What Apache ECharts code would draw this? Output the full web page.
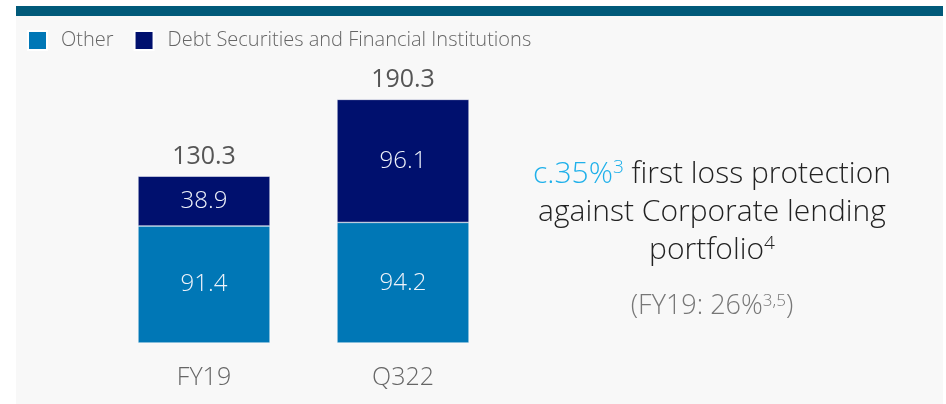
<!DOCTYPE html>
<html>
<head>
<meta charset="utf-8">
<script src="https://cdn.jsdelivr.net/npm/echarts@6/dist/echarts.min.js"></script>
<style>
  html, body { margin: 0; padding: 0; background: #ffffff; }
  #chart { width: 946px; height: 404px; }
</style>
</head>
<body>
<div id="chart"></div>
<script>
// Data
var categories = ['FY19', 'Q322'];
var otherValues = [91.4, 94.2];
var debtValues = [38.9, 96.1];
var totalValues = [130.3, 190.3];

var chart = echarts.init(document.getElementById('chart'));

var fontName = '"Open Sans", Lato, sans-serif';

// One centred line of the side note
var noteLine = function (y, text, rich) {
    return {
        type: 'text', x: 712, y: y, z: 10,
        style: { text: text, align: 'center', verticalAlign: 'middle', rich: rich }
    };
};

var noteRich = {
    hl: { fontSize: 30, fontFamily: fontName, fontWeight: 300, fill: '#1fb0ea' },
    hls: { fontSize: 19, fontFamily: fontName, fontWeight: 300, fill: '#1fb0ea', padding: [0, 0, 12, 0] },
    t: { fontSize: 30, fontFamily: fontName, fontWeight: 300, fill: '#222222' },
    ts: { fontSize: 19, fontFamily: fontName, fontWeight: 300, fill: '#222222', padding: [0, 0, 12, 0] },
    g: { fontSize: 27, fontFamily: fontName, fontWeight: 300, fill: '#777777' },
    gs: { fontSize: 17, fontFamily: fontName, fontWeight: 300, fill: '#777777', padding: [0, 0, 10, 0] }
};

var option = {
    backgroundColor: '#ffffff',
    textStyle: { fontFamily: fontName, fontWeight: 300 },
    animation: false,
    // Background panel, top band and the side note
    graphic: [
        { type: 'rect', z: -10, shape: { x: 16, y: 16, width: 927, height: 388 }, style: { fill: '#f8f8f8' } },
        { type: 'rect', z: -10, shape: { x: 16, y: 6, width: 927, height: 10 }, style: { fill: '#015a7a' } },
        noteLine(174, '{hl|c.35%}{hls|3}{t| first loss protection}', noteRich),
        noteLine(212, '{t|against Corporate lending}', noteRich),
        noteLine(250, '{t|portfolio}{ts|4}', noteRich),
        noteLine(306, '{g|(FY19: 26%}{gs|3,5}{g|)}', noteRich)
    ],
    legend: {
        left: 22,
        top: 25,
        itemWidth: 19,
        itemHeight: 19,
        itemGap: 20,
        icon: 'rect',
        textStyle: { fontSize: 20, color: '#666666', padding: [0, 0, 0, 9], fontFamily: fontName, fontWeight: 300 },
        data: ['Other', 'Debt Securities and Financial Institutions']
    },
    grid: { left: 104.5, width: 398, top: 87, bottom: 61 },
    xAxis: {
        type: 'category',
        data: categories,
        axisLine: { show: false },
        axisTick: { show: false },
        axisLabel: { color: '#666666', fontSize: 25, fontWeight: 300, margin: 22 }
    },
    yAxis: {
        type: 'value',
        min: 0,
        max: 200,
        show: false,
        splitLine: { show: false }
    },
    series: [
        {
            name: 'Other',
            type: 'bar',
            stack: 'total',
            barWidth: 132,
            data: otherValues,
            itemStyle: { color: '#0077b6', borderColor: '#ffffff', borderWidth: 0.5 },
            label: { show: true, position: 'inside', color: '#eef3fa', fontSize: 24, fontWeight: 300 }
        },
        {
            name: 'Debt Securities and Financial Institutions',
            type: 'bar',
            stack: 'total',
            barWidth: 132,
            data: debtValues,
            itemStyle: { color: '#00106e', borderColor: '#ffffff', borderWidth: 0.5 },
            label: { show: true, position: 'inside', color: '#eef3fa', fontSize: 24, fontWeight: 300 }
        },
        {
            name: 'Total',
            type: 'bar',
            stack: 'total',
            barWidth: 132,
            data: totalValues.map(function () { return 0; }),
            itemStyle: { color: 'transparent' },
            label: {
                show: true,
                position: 'top',
                distance: 7,
                color: '#555555',
                fontSize: 25,
                fontWeight: 400,
                formatter: function (p) { return totalValues[p.dataIndex].toFixed(1); }
            }
        }
    ]
};

chart.setOption(option);
</script>
</body>
</html>
